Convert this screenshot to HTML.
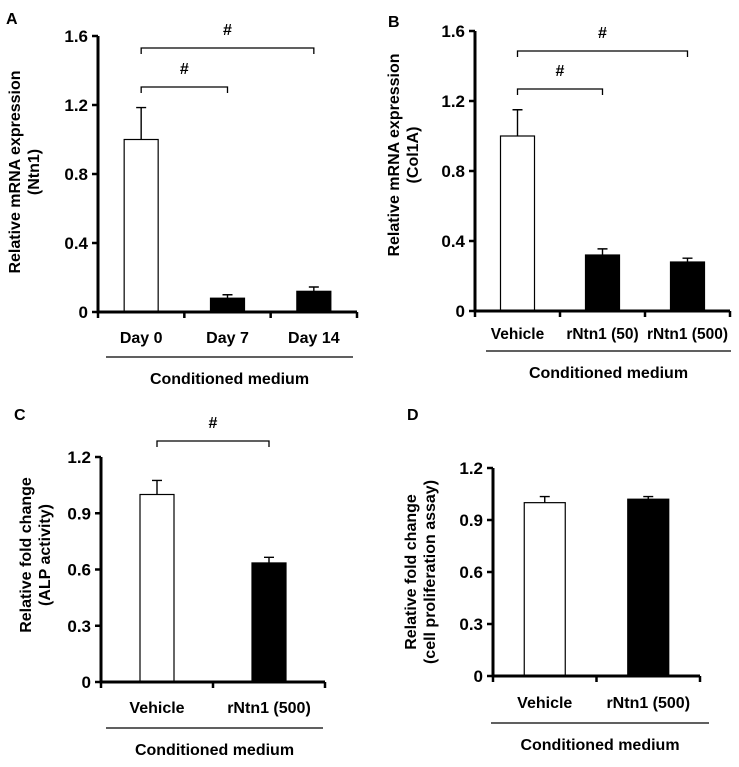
<!DOCTYPE html>
<html><head><meta charset="utf-8"><style>
body{margin:0;background:#fff}
svg text{font-family:"Liberation Sans",Arial,sans-serif;font-weight:bold;fill:#000}
</style></head><body>
<svg id="fig" width="739" height="762" xmlns="http://www.w3.org/2000/svg"></svg>
<script>
const catsA=["Day 0","Day 7","Day 14"];
const valsA=[1.0,0.08,0.12];
const errA=[0.185,0.02,0.025];
const ticksA=["0","0.4","0.8","1.2","1.6"];
const catsB=["Vehicle","rNtn1 (50)","rNtn1 (500)"];
const valsB=[1.0,0.32,0.28];
const errB=[0.15,0.035,0.022];
const ticksB=["0","0.4","0.8","1.2","1.6"];
const catsC=["Vehicle","rNtn1 (500)"];
const valsC=[1.0,0.635];
const errC=[0.075,0.03];
const ticksC=["0","0.3","0.6","0.9","1.2"];
const catsD=["Vehicle","rNtn1 (500)"];
const valsD=[1.0,1.02];
const errD=[0.035,0.015];
const ticksD=["0","0.3","0.6","0.9","1.2"];

const NS="http://www.w3.org/2000/svg";
const svg=document.getElementById('fig');
function mk(tag,attrs,parent,txt){const e=document.createElementNS(NS,tag);for(const k in attrs)e.setAttribute(k,attrs[k]);if(txt!==undefined)e.textContent=txt;(parent||svg).appendChild(e);return e;}

function panel(p){
  const g=mk('g',{});
  
  
  const ymax=parseFloat(p.ticks[p.ticks.length-1]);
  const ys=v=>p.y0-(v/ymax)*(p.y0-p.y1);
  const n=p.cats.length, bw=(p.x1-p.x0)/n;
  const xc=i=>p.x0+bw*(i+0.5);
  const lab=mk('text',{x:p.lx,y:p.ly,'font-size':16},g,p.id);
  
  p.vals.forEach((v,i)=>{
    const w=p.barw, x=xc(i)-w/2;
    const r=mk('rect',{x:x,y:ys(v),width:w,height:p.y0-ys(v),fill:i==0?'#fff':'#000',stroke:'#000','stroke-width':1.2},g);
    
    
    const ex=xc(i), top=ys(v+p.err[i]);
    const eb=mk('path',{d:`M${ex},${ys(v)}V${top}M${ex-5},${top}H${ex+5}`,stroke:'#000','stroke-width':1.4,fill:'none'},g);
    
    const t=mk('text',{x:xc(i),y:p.catY,'font-size':p.catFs||16,'text-anchor':'middle'},g,p.cats[i]);
    
  });
  const ax=mk('path',{d:`M${p.x0},${p.y1}V${p.y0}H${p.x1}`,stroke:'#000','stroke-width':3,fill:'none'},g);
  
  for(let i=0;i<=n;i++){const x=p.x0+bw*i;mk('line',{x1:x,x2:x,y1:p.y0,y2:p.y0+6,stroke:'#000','stroke-width':2.5},g);}
  p.ticks.forEach(t=>{const y=ys(parseFloat(t));
    mk('line',{x1:p.x0-6,x2:p.x0,y1:y,y2:y,stroke:'#000','stroke-width':2.5},g);
    const tl=mk('text',{x:p.x0-10,y:y+6,'font-size':17,'text-anchor':'end'},g,t);
    });
  const yt=mk('text',{transform:`translate(${p.tx},${p.ty}) rotate(-90)`,'font-size':16,'text-anchor':'middle'},g);
  
  mk('tspan',{x:0,dy:0},yt,p.title[0]);mk('tspan',{x:0,dy:19},yt,p.title[1]);
  p.brackets.forEach(b=>{
    const bp=mk('path',{d:`M${xc(b[0])},${b[2]+6}V${b[2]}H${xc(b[1])}V${b[2]+6}`,stroke:'#000','stroke-width':1.3,fill:'none'},g);
    
    const h=mk('text',{x:(xc(b[0])+xc(b[1]))/2,y:b[2]-13,'font-size':16,'text-anchor':'middle'},g,'#');
    
  });
  const sl=mk('line',{x1:p.lineX[0],x2:p.lineX[1],y1:p.lineY,y2:p.lineY,stroke:'#000','stroke-width':1.3},g);
  
  const gt=mk('text',{x:(p.lineX[0]+p.lineX[1])/2,y:p.lineY+27,'font-size':16,'text-anchor':'middle'},g,'Conditioned medium');
  
}
panel({id:'A',cats:catsA,vals:valsA,err:errA,ticks:ticksA,x0:98,x1:357,y0:312,y1:36,barw:34,catY:343,lx:6,ly:24,tx:20,ty:172,title:['Relative mRNA expression','(Ntn1)'],brackets:[[0,2,48],[0,1,87]],lineX:[106,353],lineY:357});
panel({id:'B',cats:catsB,vals:valsB,err:errB,ticks:ticksB,x0:475,x1:730,y0:311,y1:31,barw:34,catY:339,catFs:15.5,lx:388,ly:27,tx:399,ty:155,title:['Relative mRNA expression','(Col1A)'],brackets:[[0,2,51],[0,1,89]],lineX:[486,731],lineY:351});
panel({id:'C',cats:catsC,vals:valsC,err:errC,ticks:ticksC,x0:101,x1:325,y0:682,y1:457,barw:34,catY:713,lx:14,ly:420,tx:31,ty:555,title:['Relative fold change','(ALP activity)'],brackets:[[0,1,441]],lineX:[106,323],lineY:728});
panel({id:'D',cats:catsD,vals:valsD,err:errD,ticks:ticksD,x0:493,x1:700,y0:676,y1:468,barw:41,catY:708,lx:407,ly:420,tx:416,ty:572,title:['Relative fold change','(cell proliferation assay)'],brackets:[],lineX:[491,709],lineY:723});
</script>
</body></html>
